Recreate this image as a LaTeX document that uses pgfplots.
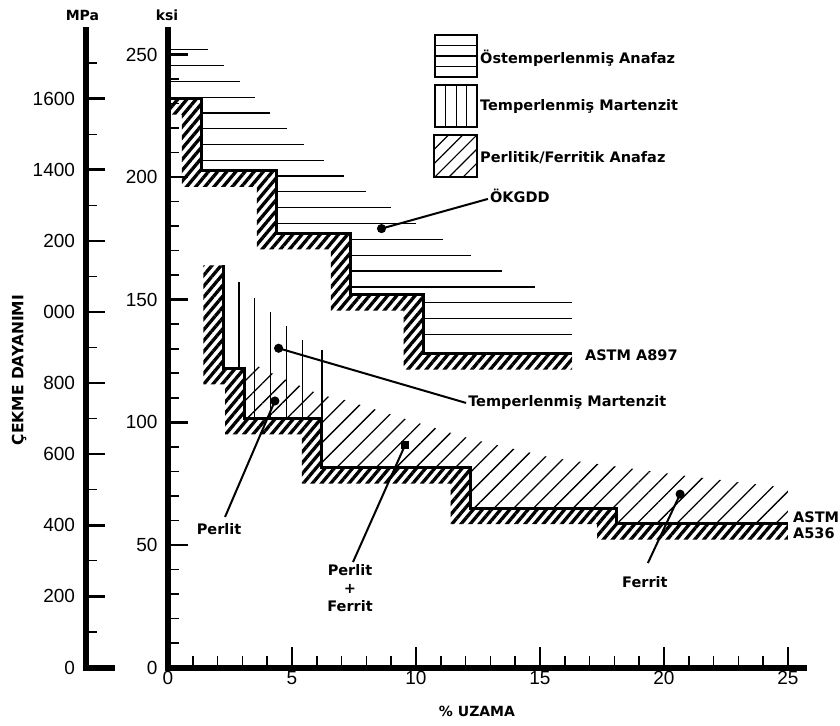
\documentclass[border=0pt]{standalone}
\usepackage{fontspec}
\setmainfont{Liberation Sans}
\newfontfamily\lab{DejaVu Sans}
\usepackage{pgfplots}
\pgfplotsset{compat=1.18}
\usetikzlibrary{patterns.meta}
\newcommand{\annfont}{\lab\bfseries\fontsize{14.5}{17}\selectfont}
\begin{document}
\begin{tikzpicture}
\useasboundingbox (-168pt,-57.5pt) rectangle (672pt,667.5pt);
% ---------------- MPa axis ----------------
\begin{axis}[
  at={(-81.5pt,0pt)}, anchor=south west,
  scale only axis, width=25.5pt, height=637.5pt,
  xmin=0, xmax=1, ymin=0, ymax=1793,
  axis x line=bottom, axis y line=left,
  axis line style={line width=6pt,-,line cap=rect},
  xtick=\empty,
  ytick={0,200,...,1600},
  yticklabels={0,200,400,600,800,000,200,1400,1600},
  minor ytick={100,300,...,1700},
  tick align=inside,
  major tick length=19pt, minor tick length=11pt,
  major tick style={line width=2.5pt, black},
  minor tick style={line width=1.2pt, black},
  /pgf/number format/assume math mode=true,
  yticklabel style={font=\fontsize{19}{19}\selectfont, xshift=-8pt},
]
\end{axis}
% ---------------- ksi / % axis ----------------
\begin{axis}[
  at={(0pt,0pt)}, anchor=south west,
  scale only axis, width=636.1pt, height=637.5pt,
  xmin=0, xmax=25.65, ymin=0, ymax=260,
  axis x line=bottom, axis y line=left,
  axis line style={line width=6pt,-,line cap=rect},
  clip=false,
  xtick={0,5,...,25},
  minor xtick={1,2,3,4,6,7,8,9,11,12,13,14,16,17,18,19,21,22,23,24},
  ytick={0,50,...,250},
  minor ytick={10,20,30,40,60,70,80,90,110,120,130,140,160,170,180,190,210,220,230,240},
  tick align=inside,
  major tick length=20pt, minor tick length=11.5pt,
  major tick style={line width=2.5pt, black},
  minor tick style={line width=1.6pt, black},
  /pgf/number format/assume math mode=true,
  yticklabel style={font=\fontsize{19}{19}\selectfont, xshift=-7pt},
  xticklabel style={font=\fontsize{19}{19}\selectfont},
]
% ===== OKGDD (ASTM A897) thick hatched band =====
\addplot[draw=none, pattern={Lines[angle=50,distance=7pt,line width=3.3pt]}]
  coordinates {(0,232)(1.36,232)(1.36,202.5)(4.38,202.5)(4.38,177)(7.37,177)(7.37,152)(10.3,152)(10.3,128)(16.3,128)
               (16.3,121.5)(9.5,121.5)(9.5,145.5)(6.57,145.5)(6.57,170.5)(3.58,170.5)(3.58,196)(0.56,196)(0.56,225.5)(0,225.5)} -- cycle;
% horizontal hatch lines
\addplot[line width=1.3pt] coordinates {(0,252)(1.6,252)};
\addplot[line width=1.3pt] coordinates {(0,245.5)(2.25,245.5)};
\addplot[line width=1.3pt] coordinates {(0,239.1)(2.9,239.1)};
\addplot[line width=1.3pt] coordinates {(0,232.6)(3.5,232.6)};
\addplot[line width=1.3pt] coordinates {(1.36,226.2)(4.1,226.2)};
\addplot[line width=1.3pt] coordinates {(1.36,219.7)(4.8,219.7)};
\addplot[line width=1.3pt] coordinates {(1.36,213.3)(5.5,213.3)};
\addplot[line width=1.3pt] coordinates {(1.36,206.8)(6.3,206.8)};
\addplot[line width=1.3pt] coordinates {(4.38,200.4)(7.1,200.4)};
\addplot[line width=1.3pt] coordinates {(4.38,194.0)(8.0,194.0)};
\addplot[line width=1.3pt] coordinates {(4.38,187.5)(9.0,187.5)};
\addplot[line width=1.3pt] coordinates {(4.38,181.0)(10.0,181.0)};
\addplot[line width=1.3pt] coordinates {(7.37,174.6)(11.1,174.6)};
\addplot[line width=1.3pt] coordinates {(7.37,168.1)(12.2,168.1)};
\addplot[line width=1.3pt] coordinates {(7.37,161.7)(13.45,161.7)};
\addplot[line width=1.3pt] coordinates {(7.37,155.2)(14.8,155.2)};
\addplot[line width=1.3pt] coordinates {(10.3,148.8)(16.3,148.8)};
\addplot[line width=1.3pt] coordinates {(10.3,142.3)(16.3,142.3)};
\addplot[line width=1.3pt] coordinates {(10.3,135.9)(16.3,135.9)};
% boundary
\addplot[line width=3pt] coordinates {(0,232)(1.36,232)(1.36,202.5)(4.38,202.5)(4.38,177)(7.37,177)(7.37,152)(10.3,152)(10.3,128)(16.3,128)};

% ===== Perlitic/Ferritic thin diagonal hatch =====
\addplot[draw=none, pattern={Lines[angle=45,distance=14pt,line width=1.3pt]}]
  coordinates {(3.1,101.6)(6.2,101.6)(6.2,81.5)(12.2,81.5)(12.2,65)(18.1,65)(18.1,58.7)(25,58.7)
               (25,73.2)(20.6,78.5)(15.5,85.5)(12.3,93)(10,100)(7,109.5)(6.2,111)(4.5,118.5)(3.6,123)(3.1,123)} -- cycle;
% ===== TM + PF thick hatched band =====
\addplot[draw=none, pattern={Lines[angle=50,distance=7pt,line width=3.3pt]}]
  coordinates {(2.23,164)(2.23,122)(3.1,122)(3.1,101.6)(6.2,101.6)(6.2,81.5)(12.2,81.5)(12.2,65)(18.1,65)(18.1,58.7)(25,58.7)
               (25,52.2)(17.3,52.2)(17.3,58.5)(11.4,58.5)(11.4,75)(5.4,75)(5.4,95.1)(2.3,95.1)(2.3,115.5)(1.43,115.5)(1.43,164)} -- cycle;
% TM vertical hatch lines
\addplot[line width=1.4pt] coordinates {(2.86,157.3)(2.86,122)};
\addplot[line width=1.4pt] coordinates {(3.5,150.8)(3.5,101.6)};
\addplot[line width=1.4pt] coordinates {(4.14,145.1)(4.14,101.6)};
\addplot[line width=1.4pt] coordinates {(4.79,139.3)(4.79,101.6)};
\addplot[line width=1.4pt] coordinates {(5.43,133.6)(5.43,101.6)};
\addplot[line width=1.8pt] coordinates {(6.2,129.5)(6.2,101.6)};
% lower boundary
\addplot[line width=3pt] coordinates {(2.23,164)(2.23,122)(3.1,122)(3.1,101.6)(6.2,101.6)(6.2,81.5)(12.2,81.5)(12.2,65)(18.1,65)(18.1,58.7)(25,58.7)};

% ===== legend =====
\addplot[line width=2.2pt] coordinates {(10.77,257.9)(12.46,257.9)(12.46,240.8)(10.77,240.8)} -- cycle;
\addplot[line width=1.2pt] coordinates {(10.77,253.6)(12.46,253.6)};
\addplot[line width=1.2pt] coordinates {(10.77,249.4)(12.46,249.4)};
\addplot[line width=1.2pt] coordinates {(10.77,245.1)(12.46,245.1)};
\addplot[line width=2.2pt] coordinates {(10.77,237.6)(12.46,237.6)(12.46,220.4)(10.77,220.4)} -- cycle;
\addplot[line width=1.2pt] coordinates {(11.19,237.6)(11.19,220.4)};
\addplot[line width=1.2pt] coordinates {(11.62,237.6)(11.62,220.4)};
\addplot[line width=1.2pt] coordinates {(12.04,237.6)(12.04,220.4)};
\addplot[line width=2.2pt, pattern={Lines[angle=45,distance=10pt,line width=1.2pt]}] coordinates {(10.72,217.2)(12.46,217.2)(12.46,200.0)(10.72,200.0)} -- cycle;
\node[anchor=west, font=\annfont, inner sep=0pt] at (axis cs:12.58,248.6) {Östemperlenmiş Anafaz};
\node[anchor=west, font=\annfont, inner sep=0pt] at (axis cs:12.58,229.0) {Temperlenmiş Martenzit};
\node[anchor=west, font=\annfont, inner sep=0pt] at (axis cs:12.58,207.8) {Perlitik/Ferritik Anafaz};

% ===== leader lines =====
\addplot[line width=2pt, mark=*, mark indices={1}, mark size=3.5pt] coordinates {(8.61,179.0)(12.9,191.1)};
\addplot[line width=2pt, mark=*, mark indices={1}, mark size=3.5pt] coordinates {(4.46,130.2)(12.02,107.9)};
\addplot[line width=2pt, mark=*, mark indices={1}, mark size=3.5pt] coordinates {(4.31,108.7)(2.30,61.4)};
\addplot[line width=2pt, mark=square*, mark indices={1}, mark size=3.2pt] coordinates {(9.56,90.7)(7.46,43.0)};
\addplot[line width=2pt, mark=*, mark indices={1}, mark size=3.5pt] coordinates {(20.65,70.7)(19.35,42.6)};

% ===== annotations =====
\node[anchor=west, font=\annfont, inner sep=0pt] at (axis cs:12.98,192.3) {ÖKGDD};
\node[anchor=west, font=\annfont, inner sep=0pt] at (axis cs:12.1,107.9) {Temperlenmiş Martenzit};
\node[anchor=west, font=\annfont, inner sep=0pt] at (axis cs:16.81,127.4) {ASTM A897};
\node[anchor=west, font=\annfont, inner sep=0pt, align=left] at (axis cs:25.2,58.0) {ASTM\\[-1pt]A536};
\node[font=\annfont, inner sep=0pt] at (axis cs:2.06,56.5) {Perlit};
\node[font=\annfont, inner sep=0pt, align=center, anchor=north] at (axis cs:7.34,42.0) {Perlit\\[1pt]+\\[1pt]Ferrit};
\node[font=\annfont, inner sep=0pt] at (axis cs:19.23,34.9) {Ferrit};

% ===== axis titles =====
\node[font=\lab\bfseries\fontsize{14}{15}\selectfont] at (axis cs:-0.04,266) {ksi};
\node[font=\lab\bfseries\fontsize{14}{15}\selectfont] at (axis cs:-3.45,266) {MPa};
\node[font=\lab\bfseries\fontsize{14}{15}\selectfont] at (axis cs:12.46,-18.1) {\% UZAMA};
\node[font=\lab\bfseries\fontsize{15.5}{17}\selectfont, rotate=90] at (axis cs:-6.0,121.3) {ÇEKME DAYANIMI};
\end{axis}
\end{tikzpicture}
\end{document}
